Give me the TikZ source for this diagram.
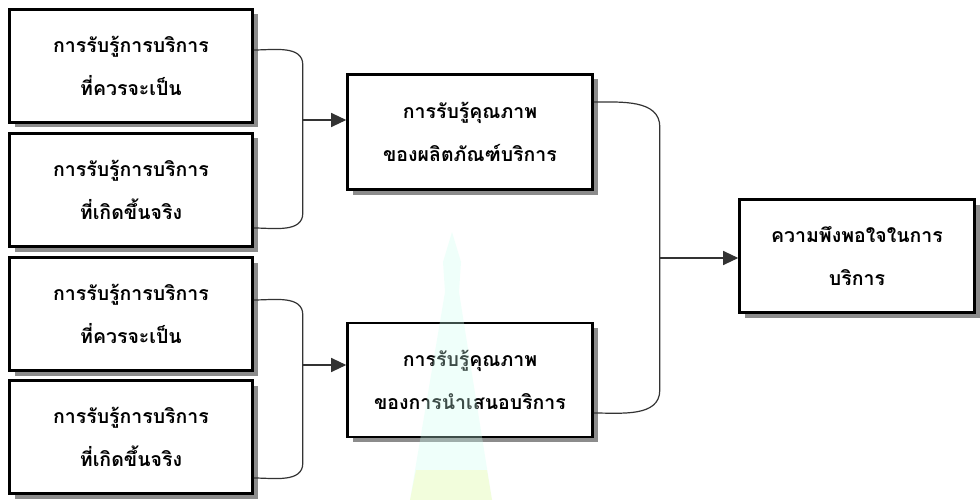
\documentclass[tikz,border=0pt]{standalone}
\usepackage{fontspec}
\newfontfamily\thaifont[Script=Thai]{Loma}
\usetikzlibrary{arrows.meta,calc}
\begin{document}
\begin{tikzpicture}[x=1pt,y=-1pt,
  box/.style={draw=black, line width=2.6pt, fill=white, rectangle,
    minimum width=243pt, minimum height=113pt, inner sep=0pt,
    align=center, font=\thaifont\bfseries\fontsize{19.5}{43}\selectfont,
    preaction={draw=none, fill=black!45, transform canvas={xshift=5pt, yshift=-5pt}}},
  conn/.style={draw=black!80, line width=1.2pt},
  arr/.style={conn, -{Triangle[length=15pt,width=14pt]}}]
\useasboundingbox (0,0) rectangle (980,500);
\fill[white] (0,0) rectangle (980,500);

\node[box] (a1) at (131,66) {การรับรู้การบริการ\\ที่ควรจะเป็น};
\node[box] (a2) at (131,190) {การรับรู้การบริการ\\ที่เกิดขึ้นจริง};
\node[box] (b1) at (131,314) {การรับรู้การบริการ\\ที่ควรจะเป็น};
\node[box] (b2) at (131,437) {การรับรู้การบริการ\\ที่เกิดขึ้นจริง};
\node[box, minimum width=245pt, minimum height=115pt] (m1) at (470,132) {การรับรู้คุณภาพ\\ของผลิตภัณฑ์บริการ};
\node[box, minimum width=245pt, minimum height=114pt] (m2) at (470,380) {การรับรู้คุณภาพ\\ของการนำเสนอบริการ};
\node[box, minimum width=235pt, minimum height=113pt] (r) at (857,256) {ความพึงพอใจในการ\\บริการ};

% left brackets
\coordinate (j1) at (302,120);
\draw[conn] ($(a1.east)+(0,-16)$) to[out=0,in=90] ($(a1.east)+(49,-1)$) -- ($(a2.east)+(49,23)$) to[out=-90,in=0] ($(a2.east)+(0,38)$);
\draw[arr] (j1) -- (m1.west |- j1);

\coordinate (j2) at (302,365);
\draw[conn] ($(b1.east)+(0,-14)$) to[out=0,in=90] ($(b1.east)+(49,1)$) -- ($(b2.east)+(49,26)$) to[out=-90,in=0] ($(b2.east)+(0,41)$);
\draw[arr] (j2) -- (m2.west |- j2);

% right bracket
\coordinate (j3) at (659,258);
\draw[conn] ($(m1.east)+(0,-30)$) to[out=0,in=90] ($(m1.east)+(66,-5)$) -- ($(m2.east)+(66,10)$) to[out=-90,in=0] ($(m2.east)+(0,33)$);
\draw[arr] (j3) -- (r.west |- j3);

% faint watermark
\fill[green!30!cyan!20, opacity=0.3] (452,232) -- (461,262) -- (459,292) -- (492,500) -- (410,500) -- (445,292) -- (443,262) -- cycle;
\fill[yellow!60, opacity=0.2] (416,470) -- (487,470) -- (492,500) -- (410,500) -- cycle;
\end{tikzpicture}
\end{document}
